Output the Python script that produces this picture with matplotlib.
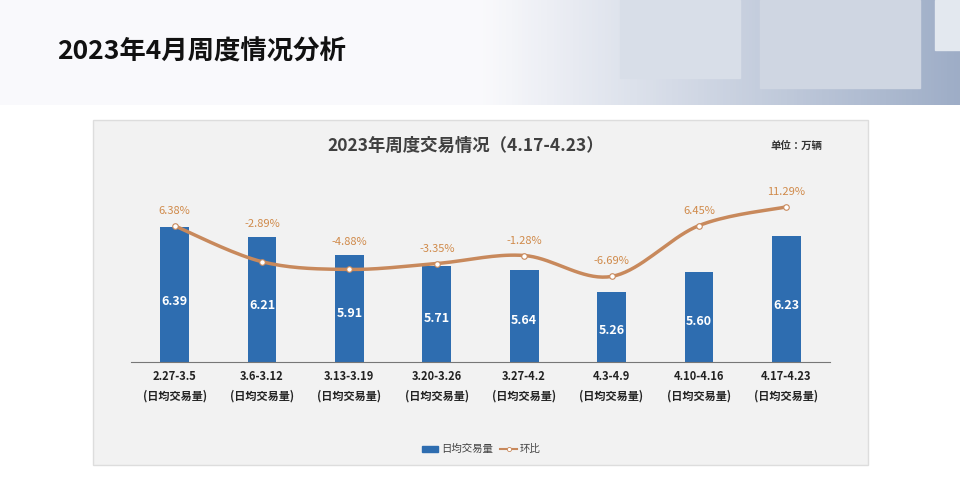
import numpy as np
import matplotlib.pyplot as plt
from matplotlib.patches import Rectangle
from matplotlib.lines import Line2D
from matplotlib import font_manager

names = {f.name for f in font_manager.fontManager.ttflist}
cjk = [n for n in ['Noto Sans CJK SC', 'Noto Sans CJK JP', 'Noto Sans CJK TC', 'Noto Sans CJK KR'] if n in names]
plt.rcParams['font.family'] = cjk + ['DejaVu Sans']

weeks = ['2.27-3.5', '3.6-3.12', '3.13-3.19', '3.20-3.26', '3.27-4.2', '4.3-4.9', '4.10-4.16', '4.17-4.23']
daily = [6.39, 6.21, 5.91, 5.71, 5.64, 5.26, 5.60, 6.23]
change = [6.38, -2.89, -4.88, -3.35, -1.28, -6.69, 6.45, 11.29]
change_labels = ['6.38%', '-2.89%', '-4.88%', '-3.35%', '-1.28%', '-6.69%', '6.45%', '11.29%']

W, H = 960, 482
fig = plt.figure(figsize=(9.6, 4.82), dpi=100)
bg = fig.add_axes([0, 0, 1, 1])
bg.set_xlim(0, W); bg.set_ylim(H, 0); bg.axis('off')

# header band with bluish image on the right
grad = np.clip((np.linspace(0, 1, 300) - 0.5) / 0.5, 0, 1)
img = np.zeros((1, 300, 3))
c0 = np.array([0.98, 0.98, 0.99]); c1 = np.array([0.62, 0.68, 0.78])
img[0] = c0 + (c1 - c0) * grad[:, None]
bg.imshow(img, extent=[0, W, 105, 0], aspect='auto')
bg.add_patch(Rectangle((620, 0), 120, 78, color='#d8dee8'))
bg.add_patch(Rectangle((760, 0), 160, 88, color='#cfd6e2'))
bg.add_patch(Rectangle((935, 0), 25, 50, color='#e3e8ef'))
bg.text(57, 52, '2023年4月周度情况分析', fontsize=19, fontweight='bold', va='center', color='#111111')

# chart panel
bg.add_patch(Rectangle((93, 120), 775, 345, facecolor='#f2f2f2', edgecolor='#dddddd', lw=1))
bg.text(466, 146, '2023年周度交易情况（4.17-4.23）', fontsize=12.5, fontweight='bold', ha='center', va='center', color='#404040')
bg.text(796, 146, '单位：万辆', fontsize=7.5, fontweight='bold', ha='center', va='center', color='#333333')

ax = fig.add_axes([131 / W, (H - 362) / H, 699 / W, 202 / H])
ax.patch.set_alpha(0)
x = np.arange(len(weeks))
ax.bar(x, daily, width=0.33, color='#2e6db0', zorder=2)
ax.set_xlim(-0.5, 7.5)
ax.set_ylim(4.04, 7.56)
for s in ['top', 'right', 'left']:
    ax.spines[s].set_visible(False)
ax.spines['bottom'].set_color('#777777')
ax.set_yticks([])
ax.set_xticks(x)
ax.set_xticklabels([w + '\n(日均交易量)' for w in weeks], fontsize=8, color='#222222', linespacing=1.6)
ax.tick_params(axis='x', length=0, pad=6)
for lbl in ax.get_xticklabels():
    lbl.set_fontweight('bold')
for i, v in enumerate(daily):
    ax.text(i, 4.04 + (v - 4.04) * 0.45, f'{v:.2f}', ha='center', va='center', color='white', fontsize=9, fontweight='bold', zorder=3)

ax2 = ax.twinx()
ax2.set_ylim(-28.8, 23.4)
ax2.axis('off')
# smooth curve through the points (Catmull-Rom for drawing)
px, py = [], []
pts = np.array([x, change], dtype=float).T
ext = np.vstack([pts[0], pts, pts[-1]])
for k in range(1, len(ext) - 2):
    p0, p1, p2, p3 = ext[k - 1], ext[k], ext[k + 1], ext[k + 2]
    for t in np.linspace(0, 1, 20):
        c = 0.5 * ((2 * p1) + (-p0 + p2) * t + (2 * p0 - 5 * p1 + 4 * p2 - p3) * t ** 2 + (-p0 + 3 * p1 - 3 * p2 + p3) * t ** 3)
        px.append(c[0]); py.append(c[1])
ax2.plot(px, py, color='#c8895c', lw=2.5, zorder=4, solid_capstyle='round')
ax2.plot(x, change, 'o', ms=4, mfc='white', mec='#c8895c', mew=0.8, zorder=5)
# labels sit above the point or the bar top, whichever is higher
for i, v in enumerate(change):
    y_pt = ax2.transData.transform((i, v))[1]
    y_bar = ax.transData.transform((i, daily[i]))[1]
    off = max(y_pt + 10, y_bar + 8) - y_pt
    ax2.annotate(change_labels[i], (i, v), xytext=(0, off * 0.72), textcoords='offset points',
                 ha='center', va='bottom', fontsize=8, color='#d08a4a', zorder=5)

# legend
bg.add_patch(Rectangle((422, 446), 16, 6, color='#2e6db0'))
bg.text(441, 449, '日均交易量', fontsize=7.5, va='center', color='#444444')
bg.add_line(Line2D([500, 517], [449, 449], color='#c8895c', lw=1.5))
bg.plot([508.5], [449], 'o', ms=3, mfc='white', mec='#c8895c', mew=0.6)
bg.text(520, 449, '环比', fontsize=7.5, va='center', color='#444444')

fig.savefig('out.png', dpi=100)
